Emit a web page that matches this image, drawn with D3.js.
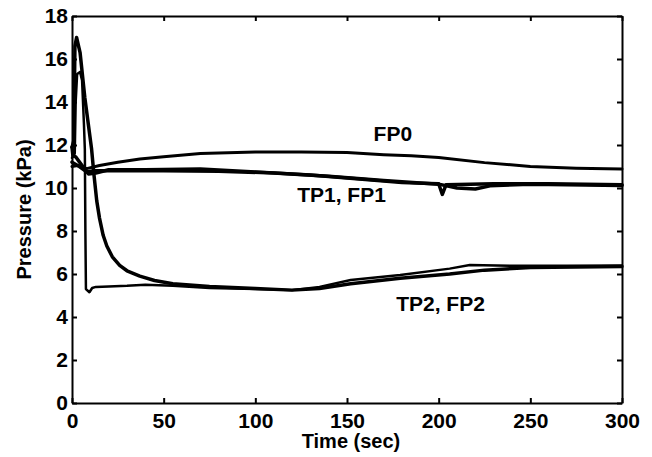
<!DOCTYPE html>
<html>
<head>
<meta charset="utf-8">
<script src="https://cdn.jsdelivr.net/npm/d3@7"></script>
<style>
  body { margin: 0; background: #fff; }
  text { font-family: "Liberation Sans", Arial, sans-serif; font-weight: bold; fill: #000; }
  .axis path, .axis line { stroke: #000; stroke-width: 2; }
  .axis text { font-size: 21px; }
  .trace { fill: none; stroke: #000; stroke-linejoin: round; stroke-linecap: round; }
</style>
</head>
<body>
<script>
// readings, [time (sec), pressure (kPa)]
var fp0 = [[0, 11.0], [3, 11.05], [8, 10.9], [15, 11.05], [25, 11.2], [37, 11.35], [50, 11.45],
  [70, 11.6], [100, 11.67], [125, 11.68], [150, 11.65], [170, 11.55], [185, 11.5], [200, 11.42],
  [225, 11.18], [250, 11.0], [275, 10.92], [300, 10.88]];
var tp1 = [[0, 11.9], [0.5, 11.5], [2, 11.45], [5, 11.1], [9, 10.65], [13, 10.7], [20, 10.85], [40, 10.85],
  [70, 10.88], [100, 10.75], [130, 10.6], [160, 10.4], [180, 10.25], [200, 10.2], [202, 9.7],
  [204, 10.15], [230, 10.2], [260, 10.2], [300, 10.15]];
var fp1 = [[0, 11.2], [4, 11.0], [8, 10.75], [12, 10.8], [20, 10.8], [50, 10.8], [80, 10.78],
  [110, 10.7], [140, 10.55], [170, 10.35], [200, 10.18], [210, 10.0], [220, 9.95], [228, 10.1],
  [250, 10.18], [300, 10.12]];
var tp2 = [[0, 11.9], [1, 12.2], [1.6, 16.6], [2.5, 17.0], [4.4, 16.3], [7, 14.2], [10.7, 11.8],
  [12, 10.6], [13.5, 9.4], [15, 8.6], [17, 7.8], [19, 7.3], [22, 6.8], [26, 6.4], [30, 6.15],
  [37, 5.9], [45, 5.7], [55, 5.55], [75, 5.42], [100, 5.33], [120, 5.25], [135, 5.33],
  [152, 5.55], [179, 5.8], [206, 6.0], [225, 6.18], [250, 6.3], [275, 6.33], [300, 6.35]];
var fp2 = [[0, 11.4], [1.5, 11.6], [2, 14.0], [2.8, 15.3], [4.4, 15.4], [5.5, 15.0], [6.5, 13.0],
  [7, 11.8], [7.3, 8.0], [7.6, 5.3], [9.5, 5.15], [11, 5.35], [13, 5.4], [20, 5.42], [30, 5.45],
  [40, 5.5], [55, 5.45], [75, 5.35], [100, 5.3], [120, 5.25], [135, 5.4], [152, 5.72],
  [179, 5.95], [206, 6.25], [217, 6.42], [240, 6.38], [270, 6.38], [300, 6.4]];

var xTicks = [0, 50, 100, 150, 200, 250, 300];
var yTicks = [0, 2, 4, 6, 8, 10, 12, 14, 16, 18];
var notes = [
  {text: "FP0", t: 175, p: 12.2},
  {text: "TP1, FP1", t: 147, p: 9.35},
  {text: "TP2, FP2", t: 201, p: 4.3}
];

var width = 652, height = 457;
var margin = {top: 16, right: 30, bottom: 54, left: 72};

var svg = d3.select("body").append("svg")
  .attr("width", width)
  .attr("height", height);

var x = d3.scaleLinear().domain([0, 300]).range([margin.left, width - margin.right]);
var y = d3.scaleLinear().domain([0, 18]).range([height - margin.bottom, margin.top]);

// box with inward ticks on every side
svg.append("g").attr("class", "axis")
  .attr("transform", "translate(0," + y(0) + ")")
  .call(d3.axisBottom(x).tickValues(xTicks).tickSize(-5).tickSizeOuter(0).tickPadding(10));
svg.append("g").attr("class", "axis")
  .attr("transform", "translate(0," + y(18) + ")")
  .call(d3.axisTop(x).tickValues(xTicks).tickSize(-5).tickSizeOuter(0).tickFormat(""));
svg.append("g").attr("class", "axis")
  .attr("transform", "translate(" + x(0) + ",0)")
  .call(d3.axisLeft(y).tickValues(yTicks).tickSize(-5).tickSizeOuter(0).tickPadding(4));
svg.append("g").attr("class", "axis")
  .attr("transform", "translate(" + x(300) + ",0)")
  .call(d3.axisRight(y).tickValues(yTicks).tickSize(-5).tickSizeOuter(0).tickFormat(""));

var line = d3.line()
  .x(function (d) { return x(d[0]); })
  .y(function (d) { return y(d[1]); });

svg.append("path").datum(fp0).attr("class", "trace").attr("stroke-width", 3).attr("d", line);
svg.append("path").datum(fp1).attr("class", "trace").attr("stroke-width", 3.5).attr("d", line);
svg.append("path").datum(tp1).attr("class", "trace").attr("stroke-width", 3.5).attr("d", line);
svg.append("path").datum(fp2).attr("class", "trace").attr("stroke-width", 2.5).attr("d", line);
svg.append("path").datum(tp2).attr("class", "trace").attr("stroke-width", 3.5).attr("d", line);

svg.selectAll(".note")
  .data(notes)
  .enter().append("text")
  .attr("class", "note")
  .attr("x", function (d) { return x(d.t); })
  .attr("y", function (d) { return y(d.p); })
  .attr("text-anchor", "middle")
  .style("font-size", "21px")
  .text(function (d) { return d.text; });

svg.append("text")
  .attr("x", (x(0) + x(300)) / 2 + 4)
  .attr("y", 448)
  .attr("text-anchor", "middle")
  .style("font-size", "20px")
  .text("Time (sec)");

svg.append("text")
  .attr("transform", "translate(31," + ((y(0) + y(18)) / 2) + ") rotate(-90)")
  .attr("text-anchor", "middle")
  .style("font-size", "20px")
  .text("Pressure (kPa)");
</script>
</body>
</html>
